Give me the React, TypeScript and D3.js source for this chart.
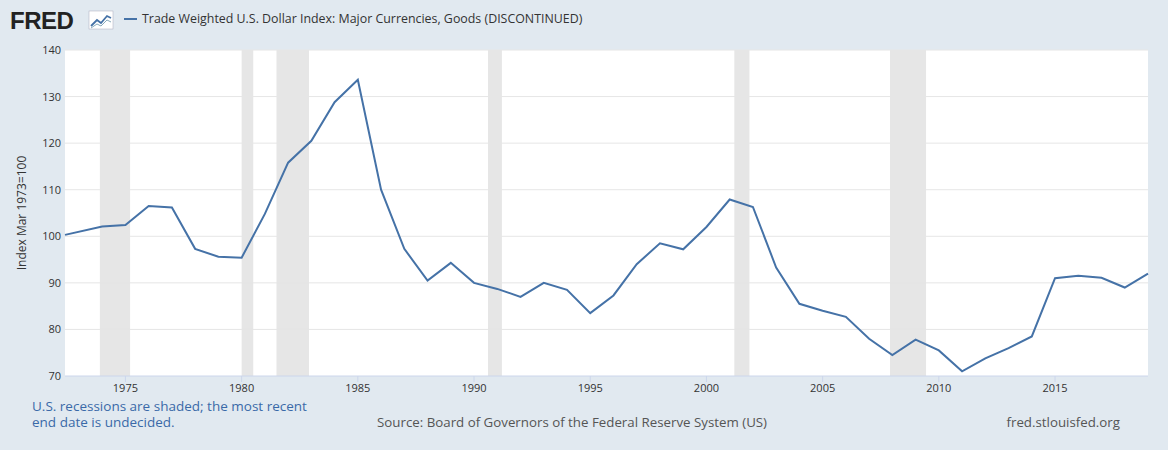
import * as d3 from 'd3';

const years = [1972.4, 1974, 1975, 1976, 1977, 1978, 1979, 1980, 1981, 1982, 1983, 1984, 1985, 1986, 1987, 1988, 1989, 1990, 1991, 1992, 1993, 1994, 1995, 1996, 1997, 1998, 1999, 2000, 2001, 2002, 2003, 2004, 2005, 2006, 2007, 2008, 2009, 2010, 2011, 2012, 2013, 2014, 2015, 2016, 2017, 2018, 2019];
const values = [100.3, 102.1, 102.4, 106.5, 106.2, 97.3, 95.6, 95.4, 104.8, 115.8, 120.5, 128.8, 133.6, 110, 97.3, 90.5, 94.3, 90, 88.7, 87, 90, 88.5, 83.5, 87.3, 94, 98.5, 97.2, 102, 107.9, 106.3, 93.3, 85.5, 84, 82.7, 78, 74.5, 77.8, 75.5, 71, 73.8, 76, 78.5, 91, 91.5, 91.1, 89, 92];
const recessions: [number, number][] = [[1973.9, 1975.2], [1980.0, 1980.5], [1981.5, 1982.9], [1990.6, 1991.2], [2001.2, 2001.85], [2007.9, 2009.45]];
const xTicks = [1975, 1980, 1985, 1990, 1995, 2000, 2005, 2010, 2015];
const yTicks = [70, 80, 90, 100, 110, 120, 130, 140];

const font = "'Open Sans', 'Noto Sans', sans-serif";

export default function App() {
  const W = 1168, H = 450;
  const left = 65, right = 1148, top = 50, bottom = 376;
  const x = d3.scaleLinear().domain([1972.4, 2019]).range([left, right]);
  const y = d3.scaleLinear().domain([70, 140]).range([bottom, top]);
  const line = d3.line<number>().x((_, i) => x(years[i])).y(d => y(d));

  return (
    <svg width={W} height={H} style={{ position: 'absolute', left: 0, top: 0 }} fontFamily={font}>
      <rect width={W} height={H} fill="#e1e9f0" />
      <text x={10} y={29} fontSize={24} fontWeight="bold" fill="#222" fontFamily="Arial, 'Liberation Sans', sans-serif" letterSpacing={-0.5}>FRED</text>
      <g transform="translate(89,11)">
        <rect width={24} height={18} fill="#fff" stroke="#aab" strokeWidth={0.5} />
        <polyline points="2,15 8,9 12,12 18,5 22,7" fill="none" stroke="#4572a7" strokeWidth={1.8} />
        <polyline points="2,17 8,13 12,15 18,9 22,11" fill="none" stroke="#8ab" strokeWidth={1} />
      </g>
      <line x1={124} x2={137} y1={19} y2={19} stroke="#4572a7" strokeWidth={2} />
      <text x={142} y={23} fontSize={12.4} fill="#333">Trade Weighted U.S. Dollar Index: Major Currencies, Goods (DISCONTINUED)</text>
      <rect x={left} y={top} width={right - left} height={bottom - top} fill="#fff" />
      {recessions.map(([a, b], i) => (
        <rect key={i} x={x(a)} y={top} width={x(b) - x(a)} height={bottom - top} fill="#e6e6e6" />
      ))}
      {yTicks.map(t => (
        <g key={t}>
          {t > 70 && <line x1={left} x2={right} y1={y(t)} y2={y(t)} stroke="#e6e6e6" />}
          <text x={left - 4} y={y(t) + 4} fontSize={11} fill="#333" textAnchor="end">{t}</text>
        </g>
      ))}
      <line x1={left} x2={right} y1={bottom} y2={bottom} stroke="#ccd6eb" />
      {xTicks.map(t => (
        <g key={t}>
          <line x1={x(t)} x2={x(t)} y1={bottom} y2={bottom + 6} stroke="#ccd6eb" />
          <text x={x(t)} y={bottom + 16} fontSize={11} fill="#333" textAnchor="middle">{t}</text>
        </g>
      ))}
      <text transform={`translate(26,${(top + bottom) / 2}) rotate(-90)`} fontSize={12} fill="#333" textAnchor="middle">Index Mar 1973=100</text>
      <path d={line(values) ?? ''} fill="none" stroke="#4572a7" strokeWidth={2} />
      <text x={32} y={411} fontSize={13.5} fill="#3a69a8">U.S. recessions are shaded; the most recent</text>
      <text x={32} y={427} fontSize={13.5} fill="#3a69a8">end date is undecided.</text>
      <text x={377} y={427} fontSize={13.3} fill="#555">Source: Board of Governors of the Federal Reserve System (US)</text>
      <text x={1120} y={427} fontSize={13.3} fill="#555" textAnchor="end">fred.stlouisfed.org</text>
    </svg>
  );
}
